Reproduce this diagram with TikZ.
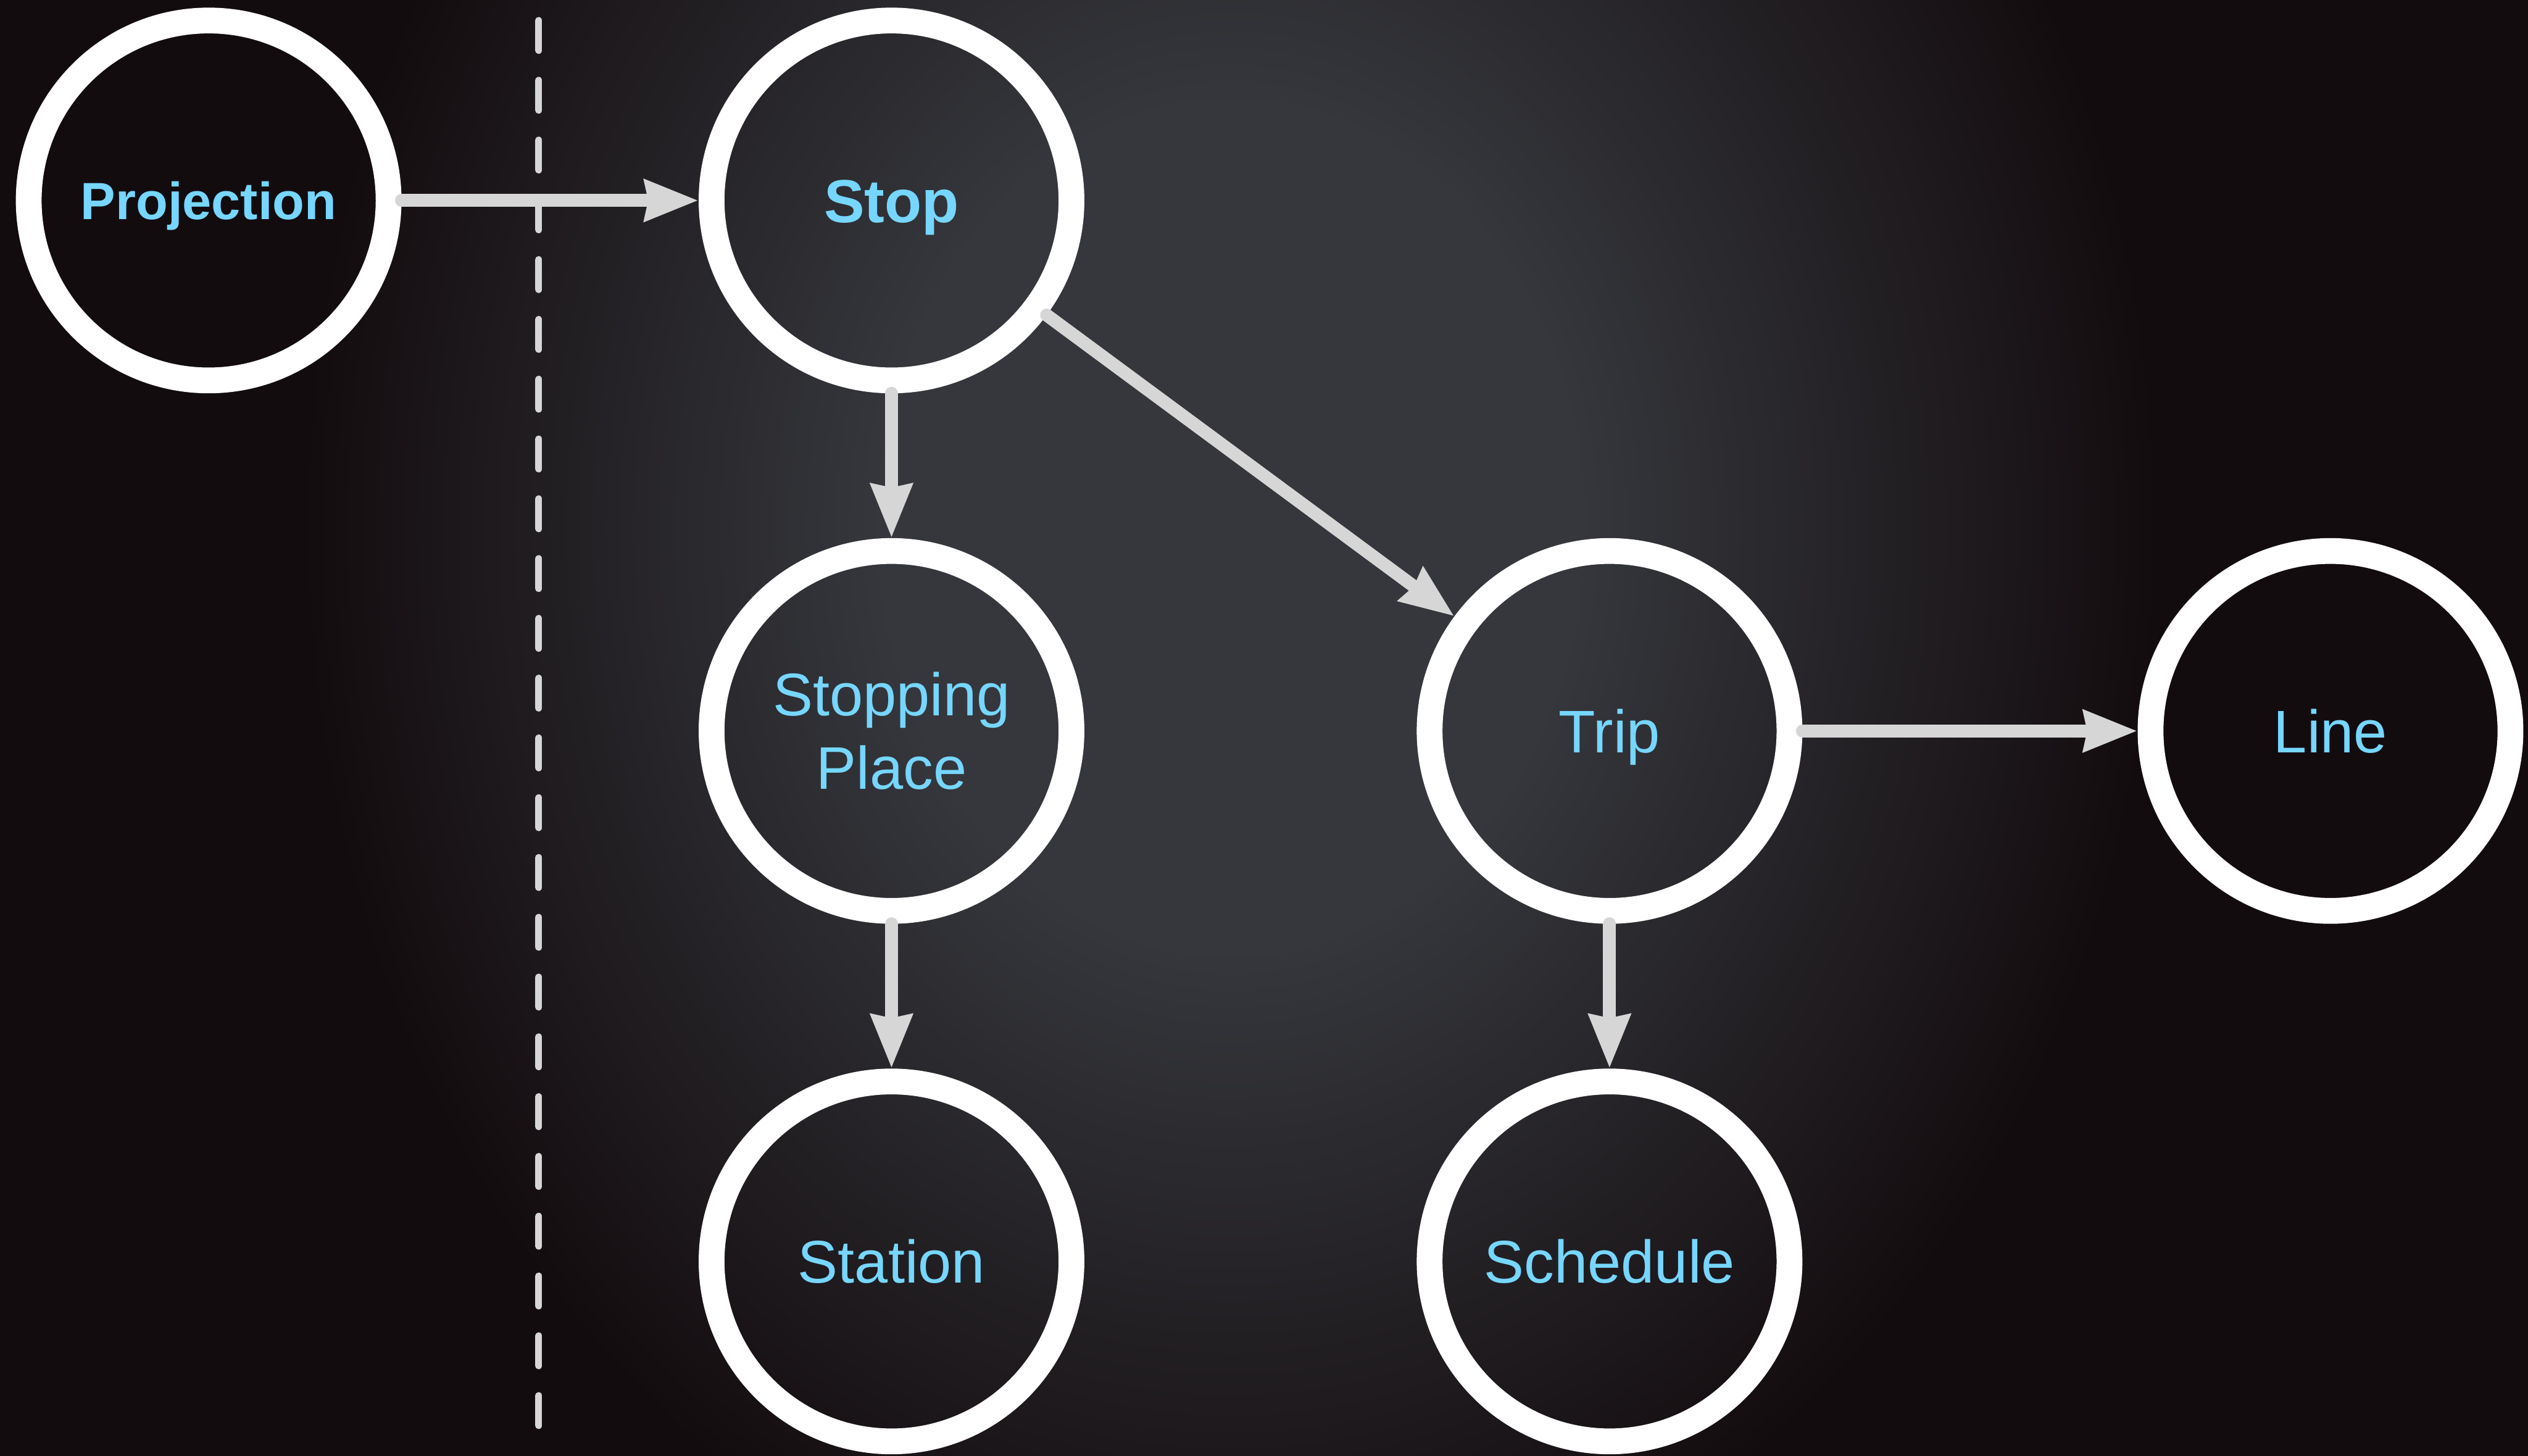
\documentclass[tikz,border=0pt]{standalone}
\usepackage{fontspec}
\setmainfont{Liberation Sans}
\usepackage{xcolor}
\usepackage{tikz}
\usetikzlibrary{positioning}
\usetikzlibrary{arrows.meta}

\definecolor{txtblue}{RGB}{118,214,255}
\definecolor{linkgray}{RGB}{214,214,214}
\definecolor{bgmid}{RGB}{53,55,60}
\definecolor{bgedge}{RGB}{19,12,15}
\pgfdeclareradialshading{backdrop}{\pgfpoint{0bp}{0bp}}{color(0bp)=(bgmid); color(9bp)=(bgmid); color(24bp)=(bgedge); color(50bp)=(bgedge)}

\tikzset{
  ring/.style={draw=white, line width=0.44cm, circle, minimum size=6.14cm, inner sep=0pt,
               text=txtblue, font=\fontsize{29.2}{35.5}\selectfont},
  oneline/.style={text height=0.74cm, text depth=0pt},
  link/.style={draw=linkgray, line width=0.22cm, line cap=round},
  divider/.style={draw=linkgray, line width=0.12cm, line cap=round, dash pattern=on 0.51cm off 0.51cm},
}

\begin{document}
\begin{tikzpicture}[node distance=9.05cm,>={Stealth[length=0.91cm,width=0.68cm,inset=0.05cm]}]
    \useasboundingbox (0,0) rectangle (43.13,-24.83);
    \clip (0,0) rectangle (43.13,-24.83);
    \fill [bgedge] (-0.1,0.1) rectangle (43.23,-24.93);
    \shade [shading=backdrop] (4.5,11) rectangle (37.5,-29);

    % Separation
    \coordinate (dtop) at (9.19,-0.35);
    \coordinate (dbot) at (9.19,-24.6);
    \draw [divider] (dtop) -- (dbot);

    % Ligne du haut : projection -> stop
    \node (projection) [ring, font=\bfseries\fontsize{25.4}{31}\selectfont, text height=0.64cm, text depth=0pt] at (3.56,-3.42) {Projection};
    \node (stop)       [ring, right of=projection, xshift=2.6cm, font=\bfseries\fontsize{29.5}{36}\selectfont, text height=0.75cm, text depth=0pt] {Stop};

    % Branche gauche
    \node (place)   [ring, below of=stop, align=center] {Stopping\\Place};
    \node (station) [ring, oneline, below of=place] {Station};

    % Branche droite
    \node (trip)     [ring, oneline, right of=place, xshift=3.2cm] {Trip};
    \node (schedule) [ring, oneline, below of=trip] {Schedule};
    \node (line)     [ring, oneline, right of=trip, xshift=3.25cm] {Line};

    % Fleches
    \draw [link, ->] (projection) -- (stop);
    \draw [link, ->] (stop) -- (place);
    \draw [link, ->] (stop) -- (trip);
    \draw [link, ->] (place) -- (station);
    \draw [link, ->] (trip) -- (line);
    \draw [link, ->] (trip) -- (schedule);
\end{tikzpicture}
\end{document}
